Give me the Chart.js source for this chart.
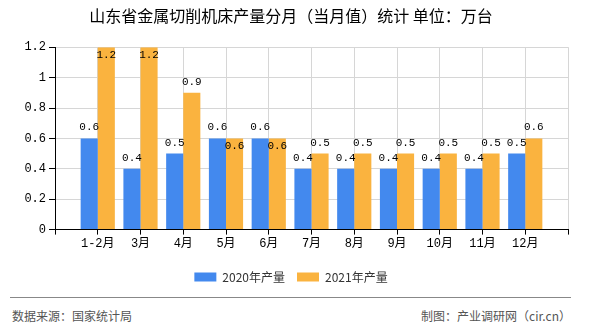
<!DOCTYPE html>
<html>
<head>
<meta charset="utf-8">
<script src="https://cdn.jsdelivr.net/npm/chart.js@4/dist/chart.umd.min.js"></script>
<style>
  body { margin: 0; background: #fff; }
  #wrap { position: relative; width: 590px; height: 330px; }
  #box { position: absolute; left: 0; top: 0; width: 590px; height: 293px; }
  #foot { position: absolute; left: 10px; top: 297px; width: 561px; border-top: 1px solid #888;
          font: 12px "Noto Sans CJK SC", sans-serif; color: #555; }
  #foot span { position: absolute; top: 10px; line-height: 16px; }
</style>
</head>
<body>
<div id="wrap">
  <div id="box"><canvas id="myChart"></canvas></div>
  <div id="foot"><span style="left:2px">数据来源：国家统计局</span><span style="right:0">制图：产业调研网（cir.cn）</span></div>
</div>
<script>
        // setup
        const months = ['1-2月', '3月', '4月', '5月', '6月', '7月', '8月', '9月', '10月', '11月', '12月'];
        const output2020 = [0.6, 0.4, 0.5, 0.6, 0.6, 0.4, 0.4, 0.4, 0.4, 0.4, 0.5];
        const output2021 = [1.2, 1.2, 0.9, 0.6, 0.6, 0.5, 0.5, 0.5, 0.5, 0.5, 0.6];
        const yTicks = [0, 0.2, 0.4, 0.6, 0.8, 1, 1.2];

        const monoFont = '"Liberation Mono", "Noto Sans CJK SC", monospace';
        const padLeft = 14;

        // value labels over / inside the bars
        const valueLabels = {
            id: 'valueLabels',
            afterDatasetsDraw(chart) {
                const ctx = chart.ctx;
                ctx.save();
                ctx.font = '11px ' + monoFont;
                ctx.fillStyle = '#000';
                ctx.textAlign = 'center';
                chart.data.datasets.forEach((ds, d) => {
                    const meta = chart.getDatasetMeta(d);
                    meta.data.forEach((bar, i) => {
                        const v = ds.data[i].y;
                        const txt = String(v);
                        let inside = false;
                        if (d === 1 && (v >= yTicks[yTicks.length - 1] || v === output2020[i])) inside = true;
                        if (inside) {
                            ctx.textBaseline = 'top';
                            ctx.fillText(txt, bar.x, bar.y + 2);
                        } else {
                            ctx.textBaseline = 'alphabetic';
                            ctx.fillText(txt, bar.x, bar.y - 8);
                        }
                    });
                });
                ctx.restore();
            }
        };

        const data = {
            datasets: [{
                label: '2020年产量',
                backgroundColor: '#4389ee',
                data: output2020.map((v, i) => ({ x: i + 1, y: v })),
            }, {
                label: '2021年产量',
                backgroundColor: '#fab33f',
                data: output2021.map((v, i) => ({ x: i + 1, y: v })),
            }]
        };

        // config
        const config = {
            type: 'bar',
            data,
            plugins: [valueLabels],
            options: {
                responsive: true,
                maintainAspectRatio: false,
                animation: false,
                categoryPercentage: 0.8,
                barPercentage: 1,
                layout: { padding: { left: padLeft, right: 22, top: 0, bottom: 0 } },
                scales: {
                    x: {
                        type: 'linear',
                        min: 0,
                        max: 12,
                        offset: false,
                        afterFit: (s) => { s.height += 6; },
                        grid: { color: '#d6d6d6', tickColor: '#000', tickLength: 5, offset: false },
                        border: { color: '#000' },
                        ticks: {
                            stepSize: 1,
                            autoSkip: false,
                            maxRotation: 0,
                            padding: 2,
                            color: '#000',
                            font: { size: 12, family: monoFont },
                            callback: (v) => months[v - 1] || ''
                        }
                    },
                    y: {
                        min: 0,
                        max: 1.2,
                        afterFit: (s) => { s.width = 55 - padLeft; },
                        grid: { color: '#d6d6d6', tickColor: '#000', tickLength: 6 },
                        border: { color: '#000' },
                        ticks: {
                            stepSize: 0.2,
                            padding: 3,
                            color: '#000',
                            font: { size: 12, family: monoFont },
                            callback: (v) => String(Math.round(v * 10) / 10)
                        }
                    }
                },
                plugins: {
                    title: {
                        display: true,
                        text: '山东省金属切削机床产量分月（当月值）统计 单位：万台',
                        color: '#000',
                        font: { size: 16, weight: 'normal', family: '"Noto Sans CJK SC", sans-serif' },
                        padding: { top: 6, bottom: 22 }
                    },
                    legend: {
                        position: 'bottom',
                        labels: {
                            boxWidth: 22,
                            boxHeight: 9,
                            padding: 12,
                            color: '#333',
                            font: { size: 12, family: '"Noto Sans CJK SC", sans-serif' }
                        }
                    },
                    tooltip: { enabled: false }
                }
            }
        };

        var myChart = new Chart(
            document.getElementById('myChart'),
            config
        );
</script>
</body>
</html>
